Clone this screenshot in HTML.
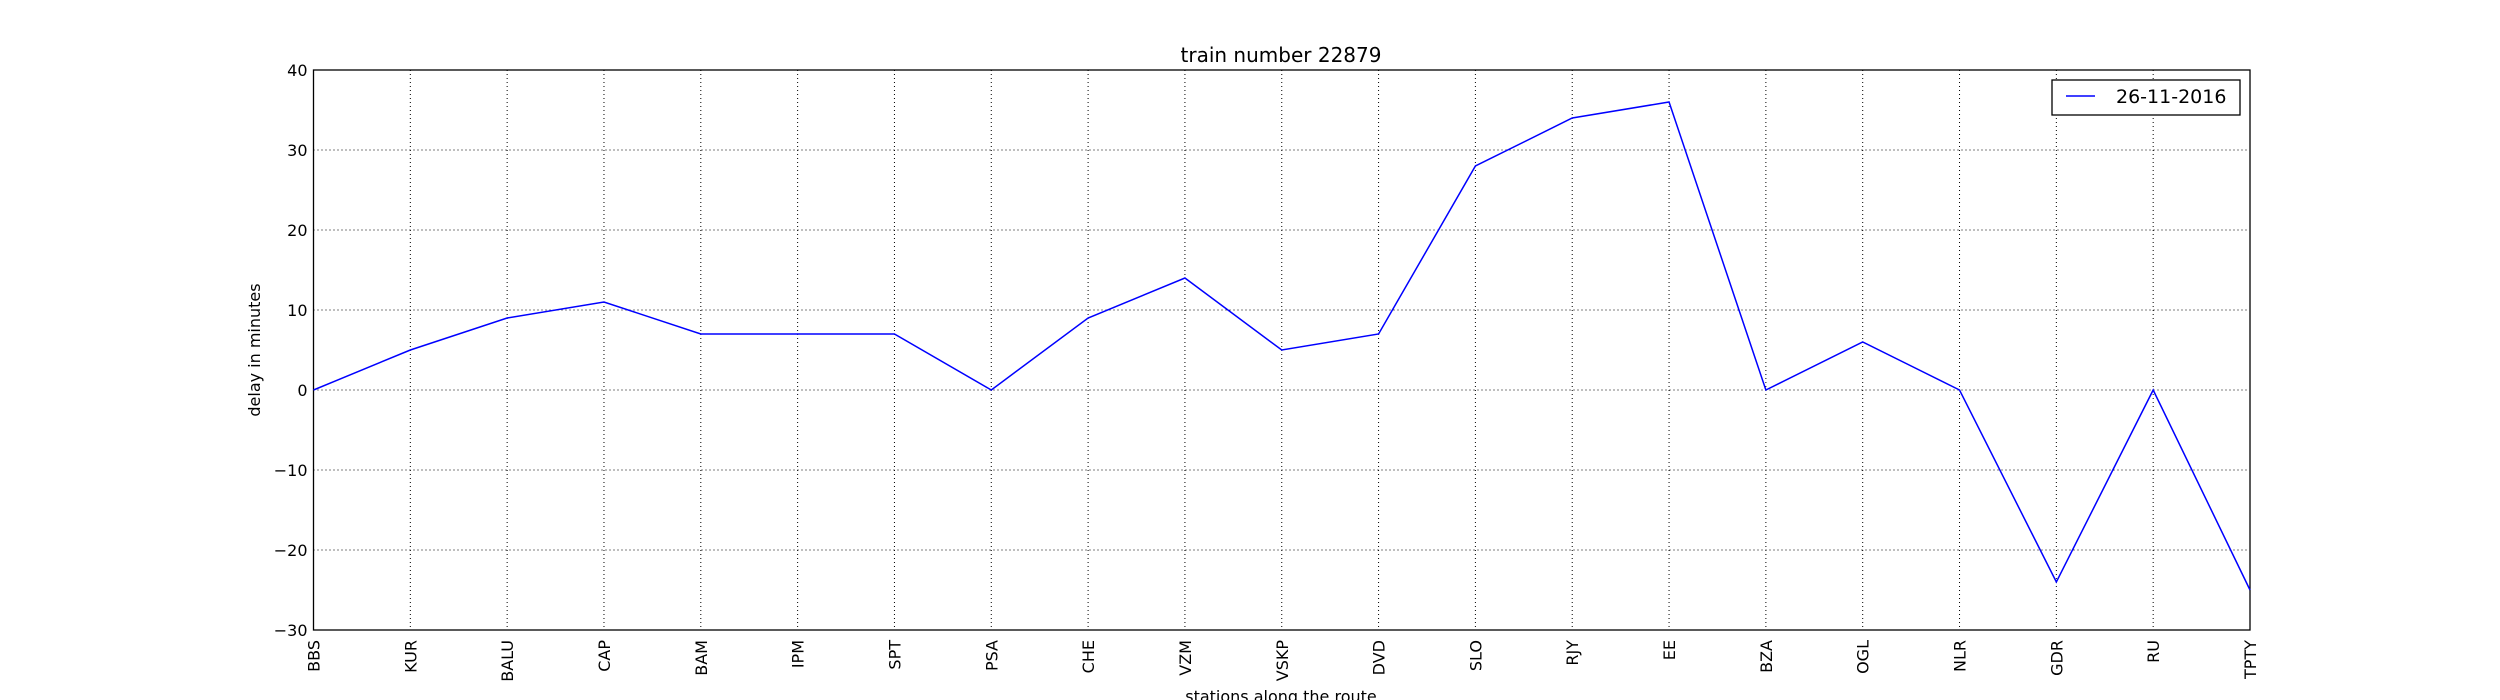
<!DOCTYPE html>
<html><head><meta charset="utf-8"><style>
html,body{margin:0;padding:0;background:#fff}
svg{display:block;font-family:"DejaVu Sans","Liberation Sans",sans-serif}
</style></head><body>
<svg id="chart" width="2500" height="700" xmlns="http://www.w3.org/2000/svg">
<rect width="2500" height="700" fill="#fff"/>
<g id="grid"></g>
<g id="axes"></g>
<g id="series"></g>
<text x="1281" y="62" font-size="20" text-anchor="middle">train number 22879</text>
<text x="1281" y="702" font-size="16" text-anchor="middle">stations along the route</text>
<text transform="translate(260,350) rotate(-90)" font-size="16" text-anchor="middle">delay in minutes</text>
<g>
<rect x="2052" y="80" width="188" height="35" fill="#fff" stroke="#000" stroke-width="1.3"/>
<line x1="2066" y1="96" x2="2095" y2="96" stroke="#0000ff" stroke-width="1.5"/>
<text x="2116" y="103" font-size="19">26-11-2016</text>
</g>
</svg>
<script>
const categories=["BBS","KUR","BALU","CAP","BAM","IPM","SPT","PSA","CHE","VZM","VSKP","DVD","SLO","RJY","EE","BZA","OGL","NLR","GDR","RU","TPTY"];
const delays=[0,5,9,11,7,7,7,0,9,14,5,7,28,34,36,0,6,0,-24,0,-25];
const yTicks=[40,30,20,10,0,-10,-20,-30];
const yTickLabels=["40","30","20","10","0","\u221210","\u221220","\u221230"];
const L=313.5,R=2250,T=70,B=630,yMin=-30,yMax=40;
const NS="http://www.w3.org/2000/svg";
function xs(i){return L+(R-L)*i/(categories.length-1);}
function ys(v){return B-(v-yMin)/(yMax-yMin)*(B-T);}
function mk(tag,attrs,parent){const e=document.createElementNS(NS,tag);for(const k in attrs)e.setAttribute(k,attrs[k]);parent.appendChild(e);return e;}
const grid=document.getElementById('grid'),axes=document.getElementById('axes'),series=document.getElementById('series');
categories.forEach((c,i)=>{
  const x=xs(i);
  const g=mk('line',{x1:x,y1:T,x2:x,y2:B,stroke:'#000','stroke-width':1,'stroke-dasharray':'1,3'},grid);
  
  
  const t=mk('text',{transform:`translate(${x+6},${B+10}) rotate(-90)`,'font-size':16,'text-anchor':'end'},axes);
  t.textContent=c;
  
  
});
yTicks.forEach((v,i)=>{
  const y=ys(v);
  const g=mk('line',{x1:L,y1:y,x2:R,y2:y,stroke:'#000','stroke-width':1,'stroke-dasharray':'1,3'},grid);
  
  
  const t=mk('text',{x:L-6,y:y+6,'font-size':16,'text-anchor':'end'},axes);
  t.textContent=yTickLabels[i];
  
  
});
const frame=mk('rect',{x:L,y:T,width:R-L,height:B-T,fill:'none',stroke:'#000','stroke-width':1.3},axes);


const pts=delays.map((v,i)=>xs(i)+','+ys(v)).join(' ');
const pl=mk('polyline',{points:pts,fill:'none',stroke:'#0000ff','stroke-width':1.5},series);


</script>
</body></html>
